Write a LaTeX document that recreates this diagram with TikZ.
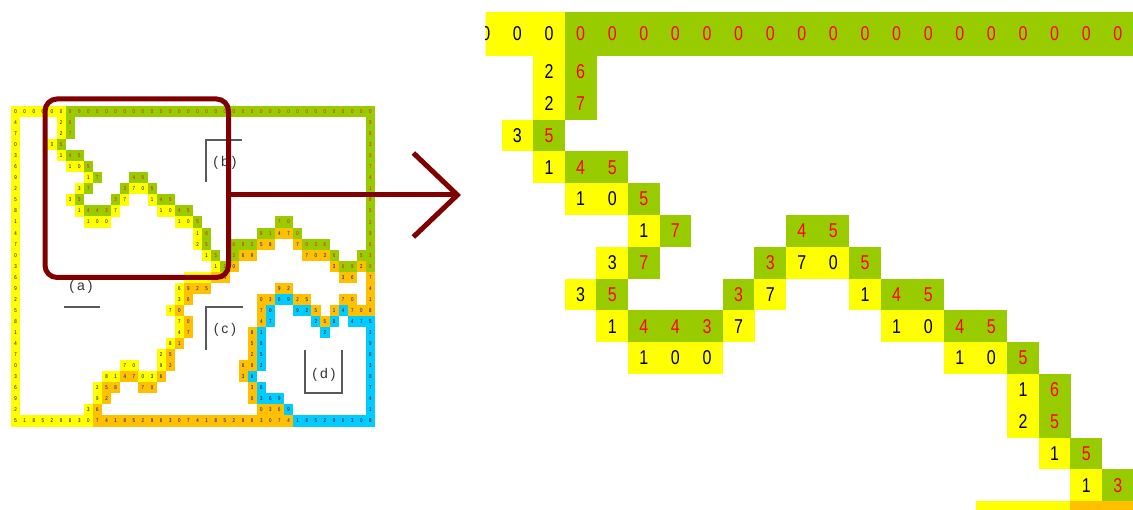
\documentclass[tikz,border=0pt]{standalone}
\usepackage{fontspec}
\setmainfont{Liberation Sans}
\newfontfamily\cellfont{Liberation Sans}[FakeStretch=0.8]
\usetikzlibrary{arrows.meta}

\definecolor{fillY}{RGB}{255,255,0}
\definecolor{fillG}{RGB}{153,204,0}
\definecolor{fillO}{RGB}{255,192,0}
\definecolor{fillC}{RGB}{0,204,255}
\definecolor{inkY}{RGB}{0,0,0}
\definecolor{inkG}{RGB}{255,0,0}
\definecolor{inkO}{RGB}{0,0,200}
\definecolor{inkC}{RGB}{0,0,0}
\definecolor{framered}{RGB}{128,0,0}

\tikzstyle{bigdigit}=[font=\cellfont\fontsize{20}{20}\selectfont, inner sep=0pt]
\tikzstyle{tinydigit}=[font=\cellfont\fontsize{5.5}{5.5}\selectfont, inner sep=0pt]
\tikzstyle{framebox}=[draw=framered, line width=5pt, rounded corners=12pt, inner sep=0pt]
\tikzstyle{zoomarrow}=[draw=framered, line width=5pt, -{Straight Barb[length=44pt,width=84pt]}]
\tikzstyle{bracket}=[draw=black!65, line width=1.3pt]
\tikzstyle{regionlabel}=[font=\fontsize{14}{14}\selectfont, text=black!80, inner sep=0pt]

% cell of the zoomed panel: column, row, colour code, digit
\newcommand{\bigcell}[4]{
\pgfmathsetmacro{\bx}{533.2+31.6*#1}
\ifnum#2=0 \def\by{12}\def\bh{44}\else
\pgfmathsetmacro{\by}{56+31.8*(#2-1)}\def\bh{31.8}\fi
\edef\cellfill{fill#3}\edef\cellink{ink#3}
\fill[\cellfill] (\bx,\by) rectangle ++(31.7,\bh+0.1);
\node[bigdigit, text=\cellink] (R-#1-#2) at (\bx+15.8,\by+\bh/2) {#4};
}
% cell of the thumbnail: column, row, colour code, digit
\newcommand{\smallcell}[4]{
\pgfmathsetmacro{\sx}{11+9.1*#1}
\pgfmathsetmacro{\sy}{106+11.05*#2}
\edef\cellfill{fill#3}\edef\cellink{ink#3}
\fill[\cellfill] (\sx,\sy) rectangle ++(9.2,11.15);
\node[tinydigit, text=\cellink] (L-#1-#2) at (\sx+4.55,\sy+5.6) {#4};
}

% the yellow/green path: column, row, colour, digit
\newcommand{\pathcells}{0/1/Y/2, 1/1/G/6, 0/2/Y/2, 1/2/G/7, -1/3/Y/3, 0/3/G/5,
0/4/Y/1, 1/4/G/4, 2/4/G/5, 1/5/Y/1, 2/5/Y/0, 3/5/G/5,
3/6/Y/1, 4/6/G/7, 8/6/G/4, 9/6/G/5,
2/7/Y/3, 3/7/G/7, 7/7/G/3, 8/7/Y/7, 9/7/Y/0, 10/7/G/5,
1/8/Y/3, 2/8/G/5, 6/8/G/3, 7/8/Y/7, 10/8/Y/1, 11/8/G/4, 12/8/G/5,
2/9/Y/1, 3/9/G/4, 4/9/G/4, 5/9/G/3, 6/9/Y/7, 11/9/Y/1, 12/9/Y/0, 13/9/G/4, 14/9/G/5,
3/10/Y/1, 4/10/Y/0, 5/10/Y/0, 13/10/Y/1, 14/10/Y/0, 15/10/G/5,
15/11/Y/1, 16/11/G/6, 15/12/Y/2, 16/12/G/5, 16/13/Y/1, 17/13/G/5, 17/14/Y/1, 18/14/G/3}

% the other borders of the thumbnail: column, row, colour
\newcommand{\regioncells}{29/10/G, 30/10/G,
27/11/G, 28/11/G, 29/11/O, 30/11/O, 31/11/G,
24/12/G, 25/12/G, 26/12/G, 27/12/O, 28/12/O, 31/12/O, 32/12/G, 33/12/G, 34/12/G,
24/13/G, 25/13/O, 26/13/O, 32/13/O, 33/13/O, 34/13/O, 35/13/G, 38/13/G,
24/14/O, 35/14/O, 36/14/G, 37/14/G, 38/14/O,
19/15/Y, 20/15/Y, 21/15/Y, 22/15/O, 23/15/O, 36/15/O, 37/15/O,
18/16/Y, 19/16/O, 20/16/O, 21/16/O, 29/16/O, 30/16/O,
18/17/Y, 19/17/O, 27/17/O, 28/17/O, 29/17/C, 30/17/C, 31/17/O, 32/17/O, 36/17/O, 37/17/O,
17/18/Y, 18/18/O, 27/18/O, 28/18/C, 31/18/C, 32/18/C, 33/18/O, 35/18/O, 36/18/C, 37/18/O, 38/18/O,
18/19/Y, 19/19/O, 27/19/O, 28/19/C, 33/19/C, 34/19/O, 35/19/C, 37/19/C, 38/19/C,
18/20/Y, 19/20/O, 26/20/O, 27/20/C, 34/20/C,
17/21/Y, 18/21/O, 26/21/O, 27/21/C,
16/22/Y, 17/22/O, 26/22/O, 27/22/C,
12/23/Y, 13/23/Y, 16/23/Y, 17/23/O, 25/23/O, 26/23/O, 27/23/C,
10/24/Y, 11/24/Y, 12/24/O, 13/24/O, 14/24/Y, 15/24/Y, 16/24/O, 25/24/O, 26/24/C,
9/25/Y, 10/25/O, 11/25/O, 14/25/O, 15/25/O, 26/25/O, 27/25/C,
9/26/Y, 10/26/O, 26/26/O, 27/26/C, 28/26/C, 29/26/C,
8/27/Y, 9/27/O, 27/27/O, 28/27/O, 29/27/O, 30/27/C}

\begin{document}
\begin{tikzpicture}[x=1pt,y=-1pt]
\useasboundingbox (0,0) rectangle (1133,510);
\fill[white] (0,0) rectangle (1133,510);

% thumbnail
\foreach \i in {0,...,39} {
  \ifnum\i<6 \smallcell{\i}{0}{Y}{0}\else \smallcell{\i}{0}{G}{0}\fi
}
\foreach \k in {1,...,28} {
  \pgfmathtruncatemacro{\dig}{mod(3*\k+1,10)}
  \smallcell{0}{\k}{Y}{\dig}
  \pgfmathtruncatemacro{\dig}{mod(7*\k+2,10)}
  \ifnum\k<15 \def\col{G}\else\ifnum\k<19 \def\col{O}\else\def\col{C}\fi\fi
  \smallcell{39}{\k}{\col}{\dig}
}
\foreach \i in {1,...,38} {
  \pgfmathtruncatemacro{\dig}{mod(7*\i+4,10)}
  \ifnum\i<9 \def\col{Y}\else\ifnum\i<31 \def\col{O}\else\def\col{C}\fi\fi
  \smallcell{\i}{28}{\col}{\dig}
}
\foreach \j/\k/\col/\dig in \pathcells {
  \pgfmathtruncatemacro{\i}{\j+5}
  \smallcell{\i}{\k}{\col}{\dig}
}
\foreach \i/\k/\col in \regioncells {
  \pgfmathtruncatemacro{\dig}{mod(3*\i+7*\k,10)}
  \smallcell{\i}{\k}{\col}{\dig}
}

% region labels
\draw[bracket] (206,182) -- (206,140) -- (242,140);
\node[regionlabel] (labelb) at (225,163) {(\kern3pt b\kern3pt)};
\draw[bracket] (206,350) -- (206,307) -- (243,307);
\node[regionlabel] (labelc) at (225,330) {(\kern3pt c\kern3pt)};
\draw[bracket] (305,350) -- (305,393) -- (342,393) -- (342,350);
\node[regionlabel] (labeld) at (324,375) {(\kern3pt d\kern3pt)};
\draw[bracket] (64,307) -- (100,307);
\node[regionlabel] (labela) at (81,287) {(\kern3pt a\kern3pt)};

% zoomed panel
\begin{scope}
\clip (485.5,0) rectangle (1133,510);
\foreach \j in {-2,...,18} {
  \ifnum\j<1 \bigcell{\j}{0}{Y}{0}\else \bigcell{\j}{0}{G}{0}\fi
}
\foreach \j/\k/\col/\dig in \pathcells {
  \bigcell{\j}{\k}{\col}{\dig}
}
\foreach \j/\col in {14/Y, 15/Y, 16/Y, 17/O, 18/O} {
  \bigcell{\j}{15}{\col}{}
}
\end{scope}

% frame and arrow
\node[framebox, minimum width=183.5pt, minimum height=178.5pt] (zoom) at (136.75,188.25) {};
\coordinate (arrowtip) at (461,195);
\draw[zoomarrow] (zoom.east |- arrowtip) -- (arrowtip);
\end{tikzpicture}
\end{document}
